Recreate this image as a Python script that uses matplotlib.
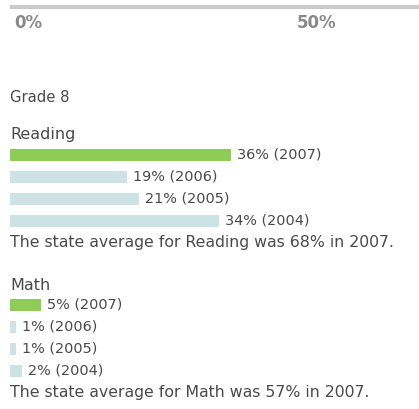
import matplotlib
matplotlib.use("Agg")
import matplotlib.pyplot as plt

# data
years = ["2007", "2006", "2005", "2004"]
reading = [36, 19, 21, 34]
math = [5, 1, 1, 2]
state_avg = {"Reading": 68, "Math": 57}
ticks = [0, 50]

green = "#8dcc55"
pale = "#cde2e5"
txt = "#4a4a4a"

plt.rcParams['font.family'] = ['DejaVu Sans']

fig = plt.figure(figsize=(4.19, 4.09), dpi=100)
ax = fig.add_axes([0, 0, 1, 1])
px = 6.15  # pixels per percent
ax.set_xlim(-10 / px, (419 - 10) / px)
ax.set_ylim(409, 0)
ax.axis("off")

# scale line at top
ax.plot([0, 409 / px], [7, 7], color="#c9c9c9", lw=3, solid_capstyle="butt")
for t in ticks:
    # tick labels sit on a slightly narrower scale than the bars
    ax.text((4 + t * 5.66) / px, 23, f"{t}%", fontsize=12, color="#8a8a8a",
            fontweight="bold", va="center", ha="left")

ax.text(0, 98, "Grade 8", fontsize=10.6, color=txt, va="center")


def block(name, vals, top):
    ax.text(0, top, name, fontsize=11.5, color=txt, va="center")
    ys = [top + 20 + 22 * i for i in range(len(vals))]
    cols = [green] + [pale] * (len(vals) - 1)
    ax.barh(ys, vals, height=12, color=cols, left=0)
    for y, v, yr in zip(ys, vals, years):
        ax.text(v + 6 / px, y, f"{v}% ({yr})", fontsize=10.4, color=txt, va="center")
    ax.text(0, ys[-1] + 21, f"The state average for {name} was {state_avg[name]}% in 2007.",
            fontsize=11.3, color=txt, va="center")


block("Reading", reading, 135)
block("Math", math, 285)

fig.savefig("out.png", dpi=100)
